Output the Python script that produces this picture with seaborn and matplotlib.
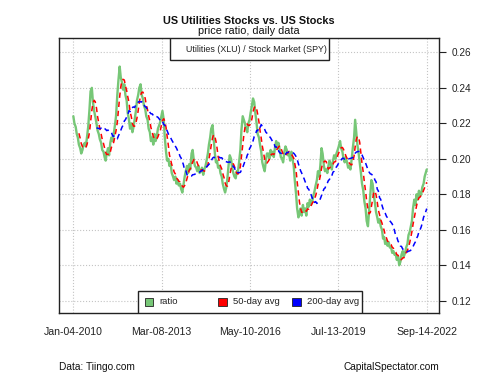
import numpy as np
import pandas as pd
import matplotlib
matplotlib.use('Agg')
import matplotlib.pyplot as plt
import seaborn as sns
from matplotlib.patches import Rectangle

ratio_2010 = [0.224, 0.220, 0.218, 0.214, 0.212, 0.208, 0.206, 0.203, 0.205, 0.208, 0.209, 0.207,
              0.213, 0.218, 0.228, 0.238, 0.240, 0.232, 0.227, 0.224, 0.220, 0.216, 0.214, 0.211]
ratio_2011 = [0.209, 0.205, 0.204, 0.201, 0.199, 0.203, 0.206, 0.202, 0.209, 0.212, 0.210, 0.214,
              0.219, 0.224, 0.236, 0.244, 0.252, 0.246, 0.243, 0.239, 0.242, 0.236, 0.233, 0.226]
ratio_2012 = [0.222, 0.217, 0.220, 0.215, 0.218, 0.222, 0.227, 0.233, 0.236, 0.240, 0.242, 0.236,
              0.234, 0.230, 0.228, 0.224, 0.222, 0.217, 0.215, 0.210, 0.212, 0.208, 0.214, 0.210]
ratio_2013 = [0.213, 0.217, 0.219, 0.221, 0.224, 0.227, 0.222, 0.212, 0.204, 0.199, 0.200, 0.196,
              0.197, 0.192, 0.190, 0.188, 0.190, 0.186, 0.188, 0.185, 0.186, 0.183, 0.181, 0.185]
ratio_2014 = [0.190, 0.193, 0.196, 0.192, 0.197, 0.194, 0.203, 0.205, 0.199, 0.196, 0.195, 0.193,
              0.196, 0.192, 0.193, 0.195, 0.191, 0.194, 0.196, 0.199, 0.203, 0.208, 0.212, 0.217]
ratio_2015 = [0.219, 0.212, 0.203, 0.198, 0.199, 0.195, 0.196, 0.192, 0.190, 0.186, 0.183, 0.181,
              0.184, 0.189, 0.197, 0.202, 0.200, 0.195, 0.192, 0.190, 0.189, 0.193, 0.193, 0.198]
ratio_2016 = [0.205, 0.216, 0.224, 0.222, 0.220, 0.217, 0.215, 0.220, 0.222, 0.226, 0.230, 0.234,
              0.232, 0.226, 0.220, 0.214, 0.212, 0.208, 0.204, 0.198, 0.195, 0.193, 0.199, 0.203]
ratio_2017 = [0.203, 0.200, 0.205, 0.202, 0.204, 0.201, 0.207, 0.210, 0.206, 0.209, 0.205, 0.201,
              0.200, 0.198, 0.204, 0.207, 0.205, 0.202, 0.203, 0.199, 0.204, 0.200, 0.196, 0.188]
ratio_2018 = [0.180, 0.172, 0.167, 0.170, 0.172, 0.168, 0.174, 0.170, 0.172, 0.168, 0.175, 0.173,
              0.177, 0.174, 0.176, 0.179, 0.182, 0.185, 0.188, 0.193, 0.190, 0.196, 0.206, 0.203]
ratio_2019 = [0.196, 0.193, 0.194, 0.192, 0.196, 0.199, 0.197, 0.194, 0.199, 0.202, 0.200, 0.203,
              0.205, 0.207, 0.210, 0.206, 0.204, 0.200, 0.198, 0.201, 0.198, 0.195, 0.196, 0.194]
ratio_2020 = [0.200, 0.206, 0.212, 0.222, 0.215, 0.208, 0.203, 0.198, 0.192, 0.186, 0.182, 0.176,
              0.172, 0.165, 0.162, 0.170, 0.180, 0.188, 0.186, 0.180, 0.175, 0.170, 0.167, 0.164]
ratio_2021 = [0.166, 0.162, 0.160, 0.155, 0.156, 0.152, 0.154, 0.151, 0.153, 0.150, 0.150, 0.147,
              0.148, 0.146, 0.146, 0.143, 0.145, 0.140, 0.142, 0.146, 0.148, 0.145, 0.147, 0.150]
ratio_2022 = [0.152, 0.157, 0.159, 0.162, 0.165, 0.172, 0.177, 0.174, 0.180, 0.177, 0.182, 0.179,
              0.180, 0.184, 0.186, 0.190, 0.194]

tick_dates = ['2010-01-04', '2013-03-08', '2016-05-10', '2019-07-13', '2022-09-14']
tick_labels = ['Jan-04-2010', 'Mar-08-2013', 'May-10-2016', 'Jul-13-2019', 'Sep-14-2022']
y_ticks = [0.12, 0.14, 0.16, 0.18, 0.20, 0.22, 0.24, 0.26]

ratio = (ratio_2010 + ratio_2011 + ratio_2012 + ratio_2013 + ratio_2014 + ratio_2015 + ratio_2016
         + ratio_2017 + ratio_2018 + ratio_2019 + ratio_2020 + ratio_2021 + ratio_2022)

# 날짜: 매월 4일, 18일 (마지막은 2022-09-14)
dates = []
for m in pd.date_range('2010-01-01', '2022-08-01', freq='MS'):
    dates += [m + pd.Timedelta(days=3), m + pd.Timedelta(days=17)]
dates.append(pd.Timestamp('2022-09-14'))

df = pd.DataFrame({'date': dates, 'ratio': ratio}).set_index('date')
# 50일 / 200일 (거래일) 이동평균 ~ 73 / 290 달력일
df['ma50'] = df['ratio'].rolling('73D').mean()
df['ma200'] = df['ratio'].rolling('290D').mean()
start = df.index[0]
df.loc[df.index < start + pd.Timedelta(days=73), 'ma50'] = np.nan
df.loc[df.index < start + pd.Timedelta(days=290), 'ma200'] = np.nan
df = df.reset_index()

sns.set_style('white')
plt.rcParams['font.family'] = ['Liberation Sans', 'DejaVu Sans']

fig = plt.figure(figsize=(5, 3.75), dpi=100)
ax = fig.add_axes([0.118, 0.1653, 0.76, 0.7334])

green = '#77c777'
sns.lineplot(data=df, x='date', y='ratio', ax=ax, color=green, linewidth=1.7)
d50 = df.dropna(subset=['ma50'])
sns.lineplot(data=d50, x='date', y='ma50', ax=ax, color='red', linewidth=1.1,
             linestyle=(0, (3.5, 2.5)))
d200 = df.dropna(subset=['ma200'])
sns.lineplot(data=d200, x='date', y='ma200', ax=ax, color='blue', linewidth=1.1,
             linestyle=(0, (3.5, 2.5)))

ax.set_xlim(pd.Timestamp('2009-06-30'), pd.Timestamp('2023-02-22'))
ax.set_ylim(0.1131, 0.2681)
ax.set_xticks(pd.to_datetime(tick_dates))
ax.set_xticklabels(tick_labels)
ax.set_yticks(y_ticks)
ax.set_yticklabels(['%.2f' % v for v in y_ticks])
ax.yaxis.tick_right()
ax.set_xlabel('')
ax.set_ylabel('')
ax.grid(True, color='#c4c4c4', linestyle=':', linewidth=0.8)
ax.tick_params(axis='both', direction='out', length=5, width=0.8, color='#222222',
               labelsize=7.2, labelcolor='#222222')
ax.tick_params(axis='x', pad=5, labelsize=7.6)
ax.tick_params(axis='y', pad=4, right=True, left=False)
for s in ax.spines.values():
    s.set_color('#222222')
    s.set_linewidth(1.0)

# 상단 설명 박스
ax.add_patch(Rectangle((0.292, 0.92), 0.419, 0.08, transform=ax.transAxes,
                       facecolor='white', edgecolor='#222222', linewidth=1.0, zorder=5))
ax.text(0.52, 0.957, 'Utilities (XLU) / Stock Market (SPY)', transform=ax.transAxes,
        ha='center', va='center', fontsize=6.4, color='#222222', zorder=6)

# 하단 범례
ax.add_patch(Rectangle((0.208, 0.0), 0.589, 0.08, transform=ax.transAxes,
                       facecolor='white', edgecolor='#222222', linewidth=1.0, zorder=5))
for xs, col, lab in [(0.237, green, 'ratio'), (0.43, 'red', '50-day avg'), (0.625, 'blue', '200-day avg')]:
    ax.add_patch(Rectangle((xs - 0.011, 0.026), 0.022, 0.03, transform=ax.transAxes,
                           facecolor=col, edgecolor='#222222', linewidth=0.6, zorder=6))
    ax.text(xs + 0.027, 0.041, lab, transform=ax.transAxes, ha='left', va='center',
            fontsize=6.8, color='#222222', zorder=6)

fig.text(0.498, 1 - 20.5 / 375, 'US Utilities Stocks vs. US Stocks', ha='center', va='center',
         fontsize=7.8, fontweight='bold', color='#111111')
fig.text(0.498, 1 - 31.5 / 375, 'price ratio, daily data', ha='center', va='center',
         fontsize=7.8, color='#111111')
fig.text(0.118, 1 - 367 / 375, 'Data: Tiingo.com', ha='left', va='center', fontsize=7.3, color='#111111')
fig.text(0.878, 1 - 367 / 375, 'CapitalSpectator.com', ha='right', va='center', fontsize=7.3,
         color='#111111')

fig.savefig('out.png', dpi=100, facecolor='white')
